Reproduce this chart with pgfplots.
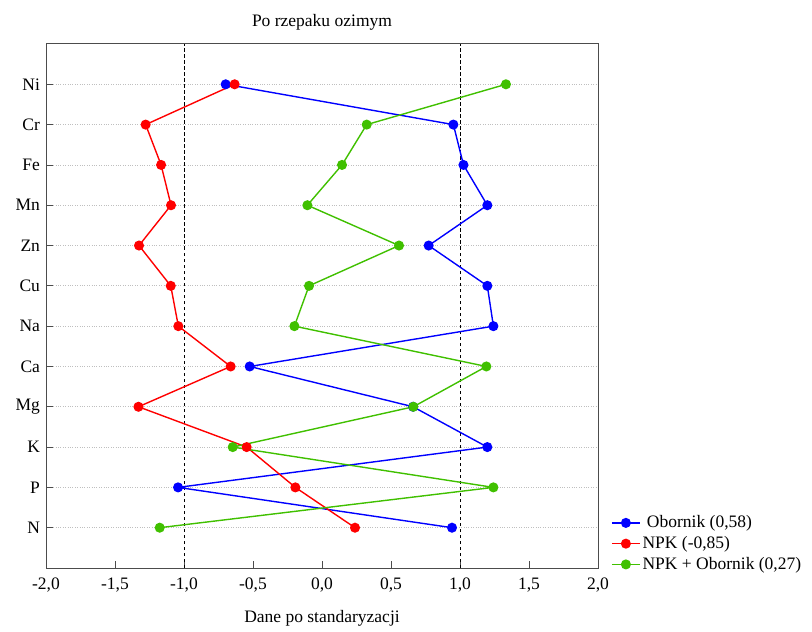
\documentclass[border=0pt]{standalone}
\usepackage{fontspec}
\setmainfont{Liberation Serif}
\usepackage{pgfplots}
\usepackage{pgfplotstable}
\pgfplotsset{compat=1.18}
\definecolor{cblue}{RGB}{0,0,255}
\definecolor{cred}{RGB}{255,0,0}
\definecolor{cgreen}{RGB}{64,192,0}
\pgfplotstableread{
x y
-0.698 12
0.952 11
1.025 10
1.198 9
0.773 8
1.198 7
1.242 6
-0.524 5
0.660 4
1.198 3
-1.043 2
0.942 1
}\obornik
\pgfplotstableread{
x y
-0.633 12
-1.278 11
-1.166 10
-1.094 9
-1.326 8
-1.096 7
-1.041 6
-0.662 5
-1.330 4
-0.546 3
-0.193 2
0.239 1
}\npk
\pgfplotstableread{
x y
1.333 12
0.324 11
0.145 10
-0.106 9
0.558 8
-0.094 7
-0.200 6
1.191 5
0.662 4
-0.647 3
1.242 2
-1.176 1
}\npko
\begin{document}
\fontsize{17.5}{21}\selectfont
\begin{tikzpicture}
\begin{axis}[
  scale only axis, width=552pt, height=524pt,
  xmin=-2, xmax=2, ymin=0, ymax=13,
  xtick={-2,-1.5,-1,-0.5,0,0.5,1,1.5,2},
  ytick={1,2,3,4,5,6,7,8,9,10,11,12},
  yticklabels={N,P,K,Mg,Ca,Na,Cu,Zn,Mn,Fe,Cr,Ni},
  tick align=inside, xtick pos=bottom, ytick pos=left,
  major tick length=7pt,
  tick style={black!70, line width=0.8pt},
  axis line style={black!70, line width=1pt},
  ymajorgrids, grid style={black!25, dotted, line width=0.8pt},
  xticklabel style={yshift=-4pt, /pgf/number format/.cd, fixed, fixed zerofill, precision=1, use comma, assume math mode=true},
  ticklabel style={font=\fontsize{17.5}{21}\selectfont},
  label style={font=\fontsize{17.5}{21}\selectfont},
  xlabel style={yshift=-6pt},
  title style={font=\fontsize{17.5}{21}\selectfont, yshift=2pt},
  title={Po rzepaku ozimym},
  xlabel={Dane po standaryzacji},
  legend cell align=left,
  legend style={at={(1,0)}, anchor=south west, xshift=10pt, yshift=-8pt, draw=none, fill=none,
    font=\fontsize{17.5}{21}\selectfont, row sep=2pt},
  legend image code/.code={\draw[mark repeat=2,mark phase=2] plot coordinates {(0pt,0pt) (14pt,0pt) (28pt,0pt)};},
]
\addplot[black, line width=1pt, dash pattern=on 3.5pt off 2.5pt, forget plot] coordinates {(-1,0) (-1,13)};
\addplot[black, line width=1pt, dash pattern=on 3.5pt off 2.5pt, forget plot] coordinates {(1,0) (1,13)};
\addplot[cblue, line width=1.4pt, mark=*, mark size=4.3pt] table[x=x,y=y] {\obornik};
\addlegendentry{\ Obornik (0,58)}
\addplot[cred, line width=1.4pt, mark=*, mark size=4.3pt] table[x=x,y=y] {\npk};
\addlegendentry{NPK (-0,85)}
\addplot[cgreen, line width=1.4pt, mark=*, mark size=4.3pt] table[x=x,y=y] {\npko};
\addlegendentry{NPK + Obornik (0,27)}
\end{axis}
\path ([xshift=-46pt,yshift=-57pt]current axis.south west) rectangle ([xshift=214pt,yshift=44pt]current axis.north east);
\end{tikzpicture}
\end{document}
